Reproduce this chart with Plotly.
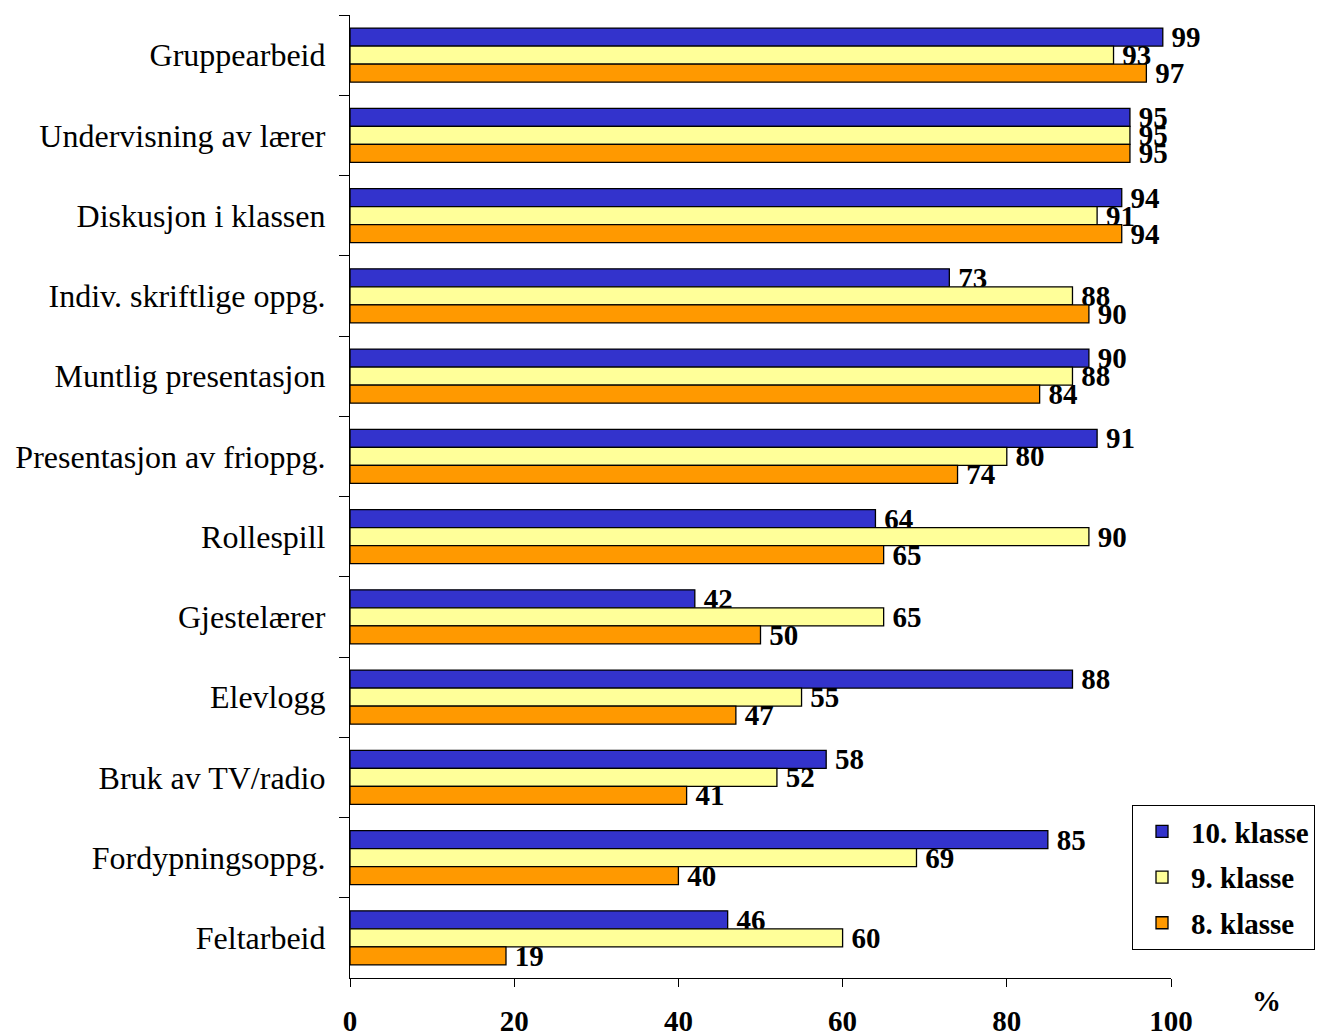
import plotly.graph_objects as go

categories = ["Gruppearbeid", "Undervisning av lærer", "Diskusjon i klassen",
              "Indiv. skriftlige oppg.", "Muntlig presentasjon", "Presentasjon av frioppg.",
              "Rollespill", "Gjestelærer", "Elevlogg", "Bruk av TV/radio",
              "Fordypningsoppg.", "Feltarbeid"]
klasse10 = [99, 95, 94, 73, 90, 91, 64, 42, 88, 58, 85, 46]
klasse9 = [93, 95, 91, 88, 88, 80, 90, 65, 55, 52, 69, 60]
klasse8 = [97, 95, 94, 90, 84, 74, 65, 50, 47, 41, 40, 19]
series_names = ["10. klasse", "9. klasse", "8. klasse"]
series_values = [klasse10, klasse9, klasse8]
colors = ["#3333CC", "#FFFF99", "#FF9900"]
x_ticks = [0, 20, 40, 60, 80, 100]

FONT = "Liberation Serif"
OFF = 8  # page body margin
W, H = 1329 - OFF, 1034 - OFF
ML, MT = 350 - OFF, 15 - OFF
PR, PB = 1171 - OFF, 978 - OFF
MR, MB = W - PR, H - PB
pw = PR - ML
ph = PB - MT


def px(sx):
    return (sx - OFF - ML) / pw


def py(sy):
    return (PB - (sy - OFF)) / ph


fig = go.Figure()
for i, (name, vals, col) in enumerate(zip(series_names, series_values, colors)):
    fig.add_trace(go.Bar(
        y=categories, x=vals, name=name, orientation="h",
        marker=dict(color=col, line=dict(color="black", width=1.3)),
        text=[f"\u2009{v}" for v in vals], textposition="outside",
        textfont=dict(family=FONT, size=29, color="black", weight="bold"),
        constraintext="none", cliponaxis=False,
        legendgroup=f"g{i}",
    ))

fig.update_layout(
    width=W, height=H,
    margin=dict(l=ML, r=MR, t=MT, b=MB, autoexpand=False),
    barmode="group", bargap=0.325, bargroupgap=0,
    plot_bgcolor="white", paper_bgcolor="white",
    font=dict(family=FONT, color="black"),
    xaxis=dict(range=[0, 100], tickvals=x_ticks, showgrid=False, zeroline=False,
               showline=True, linecolor="black", linewidth=1.2,
               ticks="outside", ticklen=8, tickcolor="black", automargin=False,
               tickfont=dict(family=FONT, size=29, color="black", weight="bold"),
               ticklabelstandoff=9),
    yaxis=dict(autorange="reversed", showgrid=False, zeroline=False,
               showline=True, linecolor="black", linewidth=1.2, automargin=False,
               ticks="outside", ticklen=10, tickcolor="black", tickson="boundaries",
               tickfont=dict(family=FONT, size=32, color="black"),
               ticklabelstandoff=17),
    legend=dict(x=px(1132), y=py(805), xanchor="left", yanchor="top",
                bordercolor="black", borderwidth=1, bgcolor="white",
                traceorder="grouped", tracegroupgap=5, itemwidth=48,
                entrywidth=125,
                font=dict(family=FONT, size=29, color="black", weight="bold")),
    showlegend=True,
)
fig.add_annotation(text="<b>%</b>", xref="paper", yref="paper",
                   x=px(1266), y=py(1001), xanchor="center", yanchor="middle",
                   showarrow=False, font=dict(family=FONT, size=29, color="black"))

fig.write_html("out.html")
